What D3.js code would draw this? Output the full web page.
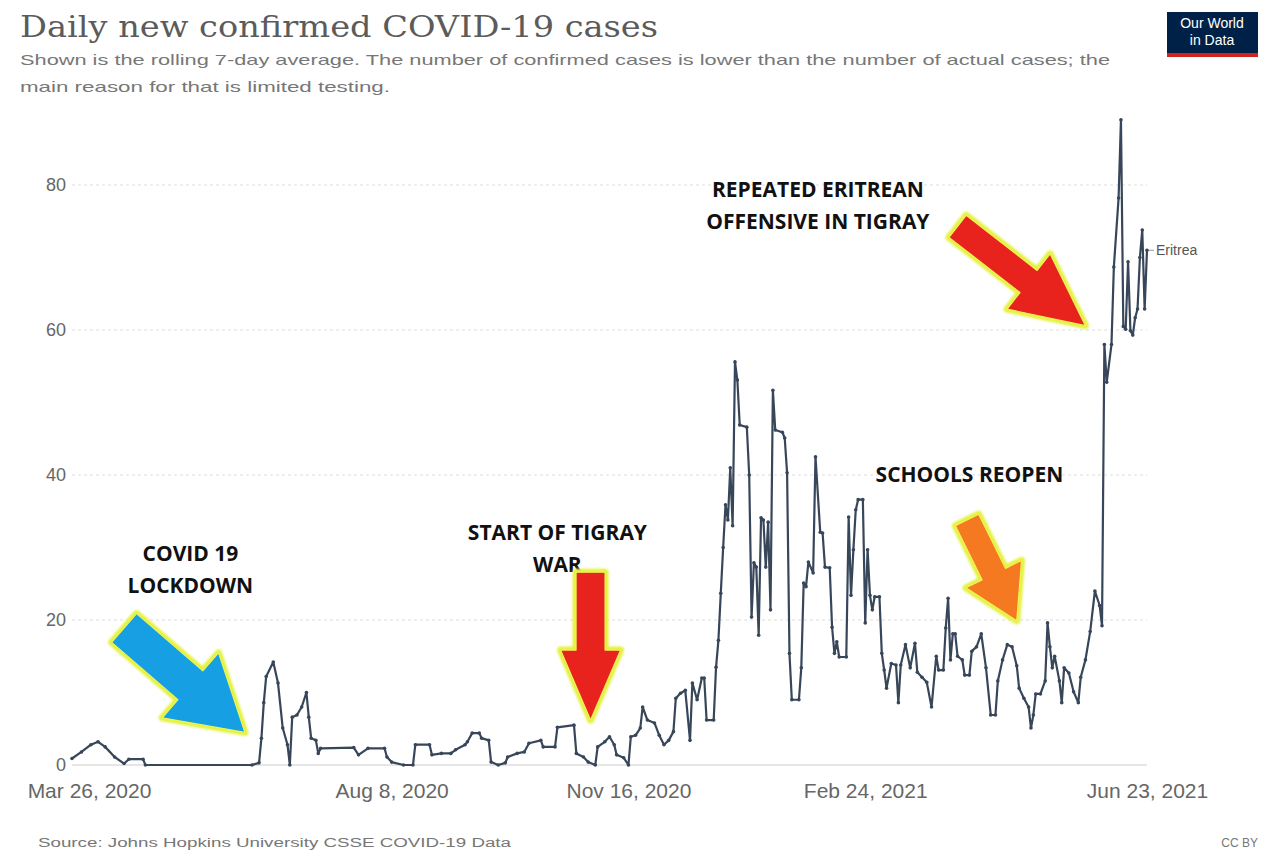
<!DOCTYPE html>
<html>
<head>
<meta charset="utf-8">
<script src="https://cdn.jsdelivr.net/npm/d3@7"></script>
<style>
  body { margin: 0; background: #fff; }
  text { font-family: "Liberation Sans", Arial, sans-serif; }
</style>
</head>
<body>
<div id="chart"></div>
<script>
// Eritrea, daily new confirmed cases (7-day avg)
// x = days since Mar 26, 2020
const days = [
  0,4,8,11,14,18,22,24,30,31,
  76,79,80,81,82,85,87,89,91,92,
  93,95,97,99,100,101,103,104,105,119,
  121,125,132,133,135,140,144,145,151,152,
  156,160,162,166,167,169,172,173,176,177,
  180,183,184,188,191,193,198,199,204,205,
  212,213,216,218,221,222,225,227,229,230,
  233,235,236,238,240,241,243,246,248,250,
  252,254,255,257,259,261,262,264,266,267,
  268,271,272,273,274,275,276,277,278,279,
  280,281,282,285,286,287,288,289,290,291,
  292,293,294,295,296,297,300,301,302,303,
  304,307,308,309,310,311,313,314,316,317,
  318,320,321,322,323,324,327,328,329,330,
  331,332,334,335,336,337,338,339,341,342,
  343,344,346,348,349,350,352,354,356,357,
  359,361,363,365,366,368,369,370,371,372,
  373,374,376,377,379,380,382,384,386,388,
  390,391,393,395,397,399,400,402,404,405,
  406,407,409,411,412,413,414,415,417,418,
  419,421,423,425,426,428,430,432,434,435,
  436,437,439,440,442,443,444,445,446,447,
  448,449,450,451,452,453,454
];
const cases = [
  0.9,1.8,2.8,3.2,2.5,1.1,0.2,0.8,0.8,0,
  0,0.3,3.7,8.6,12.2,14.2,11.3,5.1,2.8,0,
  6.6,6.9,8,10,6.6,3.7,3.4,1.6,2.3,2.4,
  1.4,2.3,2.3,1.1,0.4,0,0,2.8,2.8,1.4,
  1.6,1.6,2.1,2.8,3.2,4.4,4.4,3.7,3.4,0.4,
  0,0.3,1.1,1.6,1.8,3.0,3.4,2.5,2.5,5.2,
  5.5,1.6,1.1,0.4,0,2.5,3.2,3.9,2.8,1.4,
  1.0,0,3.9,4.1,5.1,8,6.2,5.8,4.1,2.8,
  3.4,4.6,9.2,9.9,10.3,3.4,11.3,9,12,12,
  6.2,6.2,13.5,17.2,23.7,30,35.9,33.8,41,33,
  55.6,53.1,46.9,46.6,40,20.4,27.9,27.3,17.9,34.1,
  33.8,27.3,33.5,21.4,51.7,46.2,45.9,45.1,40.3,15.4,
  9,9,13.4,25.1,24.6,28,26.5,42.5,32.1,32,
  27.3,27.2,19,15.4,17,14.9,14.9,34.2,23.4,29.7,
  35.2,36.6,36.6,19.6,29.7,23.4,21.4,23.2,23.2,15.4,
  13.1,10.6,14,13.8,8.6,13.8,16.6,13.4,16.8,12.8,
  12.1,11.4,8,15,13.1,13.1,18.9,23,14.5,18.1,
  18.1,15,14.5,12.4,12.4,15.7,16.3,18.1,13.4,6.9,
  6.9,11.6,14.5,16.6,16.3,13.7,10.6,9.2,8,5.1,
  6.9,9.8,9.8,11.6,19.6,16.3,13.4,15,11.6,8.6,
  13.4,12.7,10.1,8.6,12.1,14.5,18.4,24,22,19.2,
  58,52.8,58,68.7,78.2,89,60.5,60.1,69.4,59.9,
  59.3,61.7,62.9,70,73.8,62.9,71
];
const xTickDates = ["2020-03-26", "2020-08-08", "2020-11-16", "2021-02-24", "2021-06-23"];
const xTickLabels = ["Mar 26, 2020", "Aug 8, 2020", "Nov 16, 2020", "Feb 24, 2021", "Jun 23, 2021"];
const yTicks = [0, 20, 40, 60, 80];

// annotation text (day, value) and arrows tail -> tip in (day, value)
const noteTexts = [
  {lines: ["COVID 19", "LOCKDOWN"], day: 50, value: 28.1},
  {lines: ["START OF TIGRAY", "WAR"], day: 205, value: 31.0},
  {lines: ["REPEATED ERITREAN", "OFFENSIVE IN TIGRAY"], day: 315, value: 78.3},
  {lines: ["SCHOOLS REOPEN"], day: 379, value: 39.0}
];
const noteArrows = [
  {from: [22.4, 18.9], to: [73.1, 4.5], color: "#179fe3"},
  {from: [219.4, 26.6], to: [219.4, 6.2], color: "#e8221c"},
  {from: [374.2, 74.3], to: [428.6, 60.6], color: "#e8221c"},
  {from: [378.4, 33.8], to: [399.5, 19.9], color: "#f47920"}
];

const W = 1281, H = 853;
const startDate = new Date(2020, 2, 26);
const parseDate = d3.timeParse("%Y-%m-%d");

const data = days.map((d, i) => ({date: d3.timeDay.offset(startDate, d), value: cases[i]}));

const svg = d3.select("#chart").append("svg")
    .attr("width", W)
    .attr("height", H);

const x = d3.scaleTime()
    .domain([startDate, parseDate("2021-06-23")])
    .range([72, 1147]);

const y = d3.scaleLinear()
    .domain([0, 80])
    .range([765, 185]);

// Title + subtitle
svg.append("text")
    .attr("x", 20).attr("y", 37)
    .attr("textLength", 638).attr("lengthAdjust", "spacingAndGlyphs")
    .style("font-family", "'DejaVu Serif', serif")
    .style("font-size", "30px")
    .attr("fill", "#5b5b5b")
    .text("Daily new confirmed COVID-19 cases");

svg.append("text")
    .attr("x", 20).attr("y", 65)
    .attr("textLength", 1090).attr("lengthAdjust", "spacingAndGlyphs")
    .style("font-size", "15px")
    .attr("fill", "#777")
    .text("Shown is the rolling 7-day average. The number of confirmed cases is lower than the number of actual cases; the");

svg.append("text")
    .attr("x", 20).attr("y", 92)
    .attr("textLength", 370).attr("lengthAdjust", "spacingAndGlyphs")
    .style("font-size", "15px")
    .attr("fill", "#777")
    .text("main reason for that is limited testing.");

// OWID logo
const logo = svg.append("g");
logo.append("rect").attr("x", 1167).attr("y", 12).attr("width", 91).attr("height", 45).attr("fill", "#002147");
logo.append("rect").attr("x", 1167).attr("y", 53).attr("width", 91).attr("height", 4).attr("fill", "#ce261e");
logo.append("text").attr("x", 1212).attr("y", 28).attr("text-anchor", "middle")
    .style("font-size", "14px").attr("fill", "#fff").text("Our World");
logo.append("text").attr("x", 1212).attr("y", 45).attr("text-anchor", "middle")
    .style("font-size", "14px").attr("fill", "#fff").text("in Data");

// Gridlines
svg.append("g")
  .selectAll("line")
  .data(yTicks.filter(d => d > 0))
  .enter().append("line")
    .attr("x1", 72).attr("x2", 1147)
    .attr("y1", d => y(d)).attr("y2", d => y(d))
    .attr("stroke", "#ddd")
    .attr("stroke-dasharray", "3,3");

svg.append("line")
    .attr("x1", 72).attr("x2", 1147)
    .attr("y1", y(0)).attr("y2", y(0))
    .attr("stroke", "#ccc");

// Y axis
const yAxis = svg.append("g")
    .attr("transform", "translate(72,0)")
    .call(d3.axisLeft(y).tickValues(yTicks).tickSize(0).tickPadding(6));
yAxis.select(".domain").remove();
yAxis.selectAll("text")
    .style("font-family", "'Liberation Sans', Arial, sans-serif")
    .style("font-size", "18px")
    .attr("fill", "#666");

// X axis
const xAxis = svg.append("g")
    .attr("transform", `translate(0,${y(0)})`)
    .call(d3.axisBottom(x)
      .tickValues(xTickDates.map(parseDate))
      .tickFormat((d, i) => xTickLabels[i])
      .tickSize(0).tickPadding(18));
xAxis.select(".domain").remove();
xAxis.selectAll("text")
    .style("font-family", "'Liberation Sans', Arial, sans-serif")
    .style("font-size", "21px")
    .attr("fill", "#666")
    .filter((d, i) => i === 0)
    .attr("dx", "17");

// Arrows
const defs = svg.append("defs");
defs.append("filter").attr("id", "glow")
    .attr("x", "-20%").attr("y", "-20%").attr("width", "140%").attr("height", "140%")
  .append("feGaussianBlur").attr("stdDeviation", 1.3);

function blockArrow(p0, p1, shaftW, headW, headL) {
  const dx = p1[0] - p0[0], dy = p1[1] - p0[1];
  const L = Math.hypot(dx, dy);
  const ux = dx / L, uy = dy / L, nx = -uy, ny = ux;
  const b = [p1[0] - ux * headL, p1[1] - uy * headL];
  const pts = [
    [p0[0] + nx * shaftW / 2, p0[1] + ny * shaftW / 2],
    [b[0] + nx * shaftW / 2, b[1] + ny * shaftW / 2],
    [b[0] + nx * headW / 2, b[1] + ny * headW / 2],
    p1,
    [b[0] - nx * headW / 2, b[1] - ny * headW / 2],
    [b[0] - nx * shaftW / 2, b[1] - ny * shaftW / 2],
    [p0[0] - nx * shaftW / 2, p0[1] - ny * shaftW / 2]
  ];
  return "M" + pts.map(p => p.join(",")).join("L") + "Z";
}

const arrowSizes = [[38, 86, 72], [29, 60, 70], [28, 70, 72], [26, 62, 52]];

// Annotation text
noteTexts.forEach(n => {
  const t = svg.append("text")
      .attr("text-anchor", "middle")
      .style("font-family", "'Open Sans', sans-serif")
      .style("font-weight", "700")
      .style("font-size", "21px")
      .attr("fill", "#111");
  n.lines.forEach((l, i) => {
    t.append("tspan")
      .attr("x", x(d3.timeDay.offset(startDate, n.day)))
      .attr("y", y(n.value) + i * 32)
      .text(l);
  });
});

noteArrows.forEach((a, i) => {
  const p0 = [x(d3.timeDay.offset(startDate, a.from[0])), y(a.from[1])];
  const p1 = [x(d3.timeDay.offset(startDate, a.to[0])), y(a.to[1])];
  const s = arrowSizes[i];
  const path = blockArrow(p0, p1, s[0], s[1], s[2]);
  svg.append("path")
      .attr("d", path)
      .attr("fill", "none")
      .attr("stroke", "#e4f23c")
      .attr("stroke-width", 7)
      .attr("stroke-linejoin", "round")
      .attr("filter", "url(#glow)");
  svg.append("path")
      .attr("d", path)
      .attr("fill", a.color)
      .attr("stroke", "#eef35a")
      .attr("stroke-width", 1.2)
      .attr("stroke-linejoin", "round");
});

// Line
const line = d3.line()
    .x(d => x(d.date))
    .y(d => y(d.value));

svg.append("path")
    .datum(data)
    .attr("fill", "none")
    .attr("stroke", "#38465a")
    .attr("stroke-width", 2.2)
    .attr("stroke-linejoin", "round")
    .attr("d", line);

svg.selectAll(".dot")
    .data(data)
    .enter().append("circle")
    .attr("class", "dot")
    .attr("cx", d => x(d.date))
    .attr("cy", d => y(d.value))
    .attr("r", 1.8)
    .attr("fill", "#38465a");

// End label
const last = data[data.length - 1];
svg.append("line")
    .attr("x1", x(last.date) + 2).attr("x2", x(last.date) + 7)
    .attr("y1", y(last.value)).attr("y2", y(last.value))
    .attr("stroke", "#999");
svg.append("text")
    .attr("x", x(last.date) + 9)
    .attr("y", y(last.value))
    .attr("dy", "0.35em")
    .style("font-size", "14px")
    .attr("fill", "#555")
    .text("Eritrea");

// Footer
svg.append("text")
    .attr("x", 38).attr("y", 847)
    .attr("textLength", 473).attr("lengthAdjust", "spacingAndGlyphs")
    .style("font-size", "12px")
    .attr("fill", "#777")
    .text("Source: Johns Hopkins University CSSE COVID-19 Data");
svg.append("text")
    .attr("x", 1258).attr("y", 847)
    .attr("text-anchor", "end")
    .style("font-size", "12px")
    .attr("fill", "#777")
    .text("CC BY");
</script>
</body>
</html>
